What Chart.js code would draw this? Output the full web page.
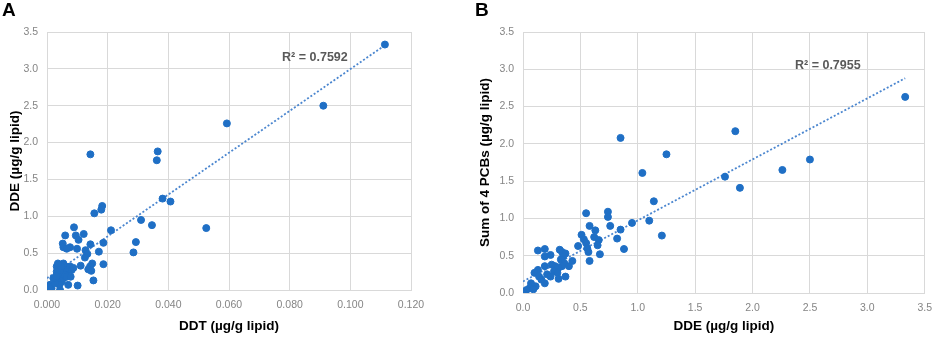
<!DOCTYPE html>
<html>
<head>
<meta charset="utf-8">
<script src="https://cdn.jsdelivr.net/npm/chart.js@4/dist/chart.umd.min.js"></script>
<style>
  html, body { margin: 0; padding: 0; background: #fff; }
  body { width: 941px; height: 338px; position: relative; overflow: hidden; font-family: "Liberation Sans", Arial, sans-serif; }
  .panel { position: absolute; top: 0; height: 338px; }
  .letter { position: absolute; top: -1px; font: bold 19px "Liberation Sans", Arial, sans-serif; color: #000; }
</style>
</head>
<body>
<div class="panel" style="left:0;width:470px"><canvas id="chartA"></canvas></div>
<div class="panel" style="left:470px;width:471px"><canvas id="chartB"></canvas></div>
<div class="letter" style="left:2px">A</div>
<div class="letter" style="left:475px">B</div>
<script>
// Panel A : DDT vs DDE
const ddtA = [0.1114,0.0911,0.0593,0.0143,0.0365,0.0362,0.0381,0.0407,0.0182,0.0179,0.0156,0.0310,0.0346,0.0525,0.0211,
  0.0089,0.0121,0.0060,0.0095,0.0104,0.0293,0.0186,0.0143,0.0052,0.0054,0.0076,0.0099,0.0065,0.0127,0.0171,0.0285,
  0.0133,0.0125,0.0186,0.0149,0.0111,0.0142,0.0136,0.0146,0.0153,0.0101,0.0070,0.0043,0.0010,0.0015,0.0008,0.0032,
  0.0037,0.0043,0.0048,0.0054,0.0059,0.0065,0.0070,0.0076,0.0081,0.0087,0.0037,0.0048,0.0054,0.0059,0.0041,0.0026,
  0.0021,0.0032,0.0052,0.0065,0.0078,0.0046,0.0036,0.0030];
const ddeA = [3.33,2.50,2.26,1.84,1.88,1.76,1.24,1.20,1.14,1.09,1.04,0.95,0.88,0.84,0.81,
  0.85,0.76,0.74,0.74,0.68,0.65,0.64,0.62,0.63,0.58,0.58,0.56,0.56,0.54,0.52,0.51,
  0.49,0.44,0.35,0.36,0.33,0.32,0.28,0.26,0.13,0.06,0.07,0.00,0.07,0.02,0.04,0.32,
  0.23,0.18,0.27,0.36,0.32,0.25,0.29,0.32,0.27,0.30,0.14,0.11,0.16,0.20,0.07,0.09,
  0.16,0.25,0.34,0.18,0.18,0.32,0.36,0.19];
const trendA_x = [0, 0.1114];
const trendA_y = [0.16, 3.32];
const xTicksA = [0, 0.02, 0.04, 0.06, 0.08, 0.10, 0.12];

// Panel B : DDE vs sum of 4 PCBs
const ddeB = [3.33,1.85,0.85,1.25,2.50,2.26,1.04,1.76,1.89,1.14,0.55,0.74,0.74,1.10,0.95,0.58,0.76,0.63,0.85,0.51,
  1.21,0.53,0.62,0.66,0.82,0.55,0.65,0.48,0.88,0.56,0.57,0.67,0.58,0.43,0.13,0.19,0.19,0.24,0.32,0.34,
  0.37,0.35,0.33,0.36,0.34,0.31,0.28,0.25,0.19,0.13,0.10,0.14,0.21,0.27,0.30,0.31,0.37,0.19,0.16,0.11,
  0.07,0.06,0.03,0.01,0.00,0.09,0.24,0.40];
const pcbB = [2.63,2.17,2.08,1.86,1.79,1.65,1.61,1.56,1.41,1.23,1.07,1.09,1.02,0.97,0.94,0.90,0.90,0.84,0.85,0.78,
  0.77,0.72,0.75,0.71,0.73,0.67,0.64,0.63,0.59,0.60,0.55,0.52,0.43,0.43,0.57,0.59,0.49,0.51,0.58,0.55,
  0.53,0.49,0.45,0.40,0.36,0.34,0.36,0.38,0.36,0.31,0.27,0.22,0.25,0.29,0.27,0.19,0.22,0.13,0.18,0.09,
  0.13,0.07,0.04,0.01,0.00,0.05,0.22,0.36];
const trendB_x = [0, 3.33];
const trendB_y = [0.155, 2.88];
const xTicksB = [0, 0.5, 1.0, 1.5, 2.0, 2.5, 3.0, 3.5];
const yTicks = [0, 0.5, 1.0, 1.5, 2.0, 2.5, 3.0, 3.5];

const pointBlue = "#1f6fc5";
const gridGrey = "#d9d9d9";
const tickGrey = "#858585";

function toPoints(xs, ys){ return xs.map((x, i) => ({x: x, y: ys[i]})); }

// writes the R² text at a spot given in data units
const r2Label = {
  id: "r2Label",
  afterDatasetsDraw(chart, args, opts){
    const ctx = chart.ctx;
    const px = chart.scales.x.getPixelForValue(opts.x);
    const py = chart.scales.y.getPixelForValue(opts.y);
    ctx.save();
    ctx.font = "bold 12.5px 'Liberation Sans', Arial, sans-serif";
    ctx.fillStyle = "#595959";
    ctx.textBaseline = "middle";
    ctx.fillText(opts.text, px, py);
    ctx.restore();
  }
};

function makeChart(id, xs, ys, tx, ty, xTicks, xDigits, xTitle, yTitle, pad, plotLeft, plotBottom, r2){
  new Chart(document.getElementById(id), {
    type: "scatter",
    data: {
      datasets: [
        {data: toPoints(xs, ys), backgroundColor: pointBlue, borderColor: pointBlue, pointRadius: 3.5, pointHoverRadius: 3.5, order: 1},
        {type: "line", data: toPoints(tx, ty), borderColor: "#4b86cf", borderWidth: 1.8, borderDash: [2, 2],
         pointRadius: 0, fill: false, order: 2}
      ]
    },
    options: {
      responsive: true, maintainAspectRatio: false, animation: false,
      layout: {padding: pad},
      plugins: {legend: {display: false}, tooltip: {enabled: false}, r2Label: r2},
      scales: {
        x: {
          type: "linear", min: xTicks[0], max: xTicks[xTicks.length - 1],
          afterBuildTicks: s => { s.ticks = xTicks.map(v => ({value: v})); },
          afterFit: s => { s.height = plotBottom; },
          grid: {color: gridGrey, drawTicks: false},
          border: {color: gridGrey},
          ticks: {padding: 9, color: tickGrey, font: {size: 10.5, family: "'Liberation Sans', Arial, sans-serif"},
                  callback: v => Number(v).toFixed(xDigits)},
          title: {display: true, text: xTitle, color: "#000", padding: {top: 0, bottom: 4},
                  font: {size: 13.5, weight: "bold", family: "'Liberation Sans', Arial, sans-serif"}}
        },
        y: {
          type: "linear", min: 0, max: 3.5,
          afterBuildTicks: s => { s.ticks = yTicks.map(v => ({value: v})); },
          afterFit: s => { s.width = plotLeft; },
          grid: {color: gridGrey, drawTicks: false},
          border: {color: gridGrey},
          ticks: {padding: 9, color: tickGrey, font: {size: 10.5, family: "'Liberation Sans', Arial, sans-serif"},
                  callback: v => Number(v).toFixed(1)},
          title: {display: true, text: yTitle, color: "#000", padding: {top: 7, bottom: 0},
                  font: {size: 13.5, weight: "bold", family: "'Liberation Sans', Arial, sans-serif"}}
        }
      }
    },
    plugins: [r2Label]
  });
}

makeChart("chartA", ddtA, ddeA, trendA_x, trendA_y, xTicksA, 3, "DDT (µg/g lipid)", "DDE (µg/g lipid)",
  {top: 32, right: 59, left: 0, bottom: 0}, 47, 48, {text: "R² = 0.7592", x: 0.0775, y: 3.16});
makeChart("chartB", ddeB, pcbB, trendB_x, trendB_y, xTicksB, 1, "DDE (µg/g lipid)", "Sum of 4 PCBs (µg/g lipid)",
  {top: 32, right: 9, left: 0, bottom: 0}, 53, 45, {text: "R² = 0.7955", x: 2.37, y: 3.05});
</script>
</body>
</html>
